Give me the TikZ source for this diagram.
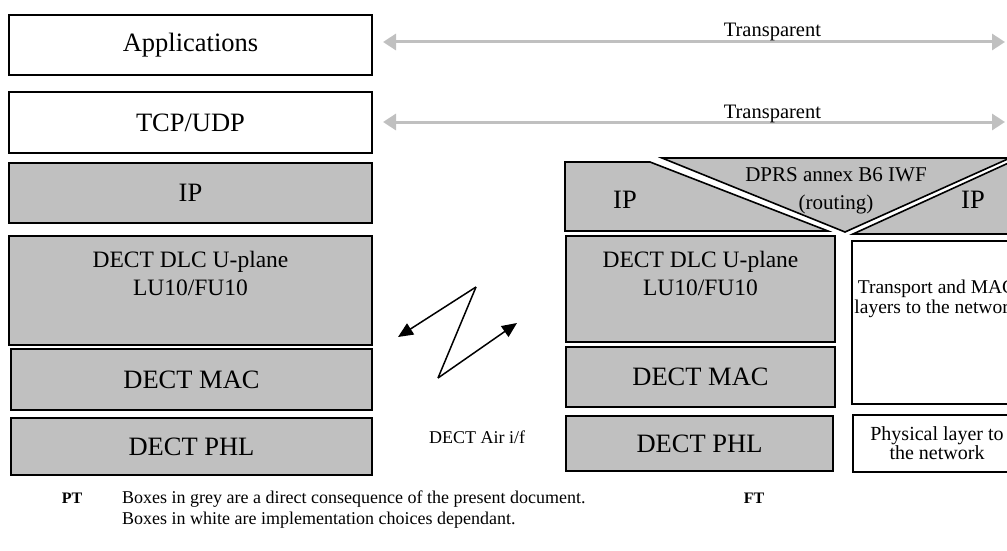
\documentclass[tikz,border=0pt]{standalone}
\usepackage{fontspec}
\setmainfont{Liberation Serif}
\usetikzlibrary{arrows.meta,positioning}
\definecolor{boxgrey}{HTML}{C0C0C0}
\begin{document}
\begin{tikzpicture}[x=1pt, y=-1pt,
    layer/.style={rectangle, draw, line width=1.6pt, fill=white, inner sep=0pt, align=center, font=\fontsize{26.5}{29}\selectfont},
    greylayer/.style={layer, fill=boxgrey},
    dlctext/.style={align=center, inner sep=0pt, font=\fontsize{23.5}{28}\selectfont},
    smalltext/.style={align=center, inner sep=0pt, font=\fontsize{19.5}{20}\selectfont},
    side/.style={anchor=base, font=\bfseries\fontsize{16}{18}\selectfont},
    wedge/.style={draw, line width=1.6pt, fill=boxgrey},
    transparent/.style={draw=boxgrey, line width=3pt, {Triangle[length=13pt,width=16pt]}-{Triangle[length=13pt,width=16pt]}},
    radio/.style={draw, line width=1.5pt, -{Triangle[length=15pt,width=13pt]}}
]
\useasboundingbox (0,0) rectangle (1007,551);
\clip (0,0) rectangle (1007,551);

\node[layer, minimum width=363pt, minimum height=60pt] (app) at (190.5,45) {Applications};
\node[layer, minimum width=363pt, minimum height=61pt] (tcp) at (190.5,122.5) {TCP/UDP};
\node[greylayer, minimum width=363pt, minimum height=60pt] (ipl) at (190.5,193) {IP};
\node[greylayer, minimum width=363pt, minimum height=109pt] (dlcl) at (190.5,290.5) {};
\node[dlctext] at ([yshift=-38pt]dlcl.north) {DECT DLC U-plane\\LU10/FU10};
\node[greylayer, minimum width=361pt, minimum height=61pt] (macl) at (191.5,379.5) {DECT MAC};
\node[greylayer, minimum width=361pt, minimum height=57pt] (phll) at (191.5,446.5) {DECT PHL};

\node[greylayer, minimum width=269pt, minimum height=106pt] (dlcr) at (700.5,289) {};
\node[dlctext] at ([yshift=-38pt]dlcr.north) {DECT DLC U-plane\\LU10/FU10};
\node[greylayer, minimum width=269pt, minimum height=60pt] (macr) at (700.5,377) {DECT MAC};
\node[greylayer, minimum width=267pt, minimum height=55pt] (phlr) at (699.5,443.5) {DECT PHL};
\node[layer, minimum width=169pt, minimum height=163pt] (netmac) at (936.5,322.5) {};
\node[smalltext] at ([yshift=-59pt]netmac.north) {Transport and MAC\\layers to the network};
\node[layer, font=\fontsize{20}{19}\selectfont, minimum width=168pt, minimum height=57pt] (netphy) at (937,443.5) {Physical layer to\\the network};

\draw[wedge] (565,162) -- (650,162) -- (828,231) -- (565,231) -- cycle;
\draw[wedge] (662,158) -- (1010,158) -- (845,232) -- cycle;
\draw[wedge] (853,234) -- (1015,160) -- (1100,160) -- (1100,234) -- cycle;
\node[font=\fontsize{26.5}{29}\selectfont] (ipr1) at (625,200) {IP};
\node[font=\fontsize{26.5}{29}\selectfont] (ipr2) at (973,200) {IP};
\node[smalltext, font=\fontsize{21}{28}\selectfont] (iwf) at (836,191) {DPRS annex B6 IWF\\(routing)};

\coordinate (appnear) at (383,42);
\coordinate (appfar) at (1005,42);
\coordinate (tcpnear) at (383,122);
\coordinate (tcpfar) at (1005,122);
\draw[transparent] (appnear) -- node[pos=.626, anchor=base, yshift=5pt, text=black, font=\fontsize{20.5}{20}\selectfont] {Transparent} (appfar);
\draw[transparent] (tcpnear) -- node[pos=.626, anchor=base, yshift=4pt, text=black, font=\fontsize{20.5}{20}\selectfont] {Transparent} (tcpfar);

\coordinate (zl) at (398,337);
\coordinate (zt) at (476,287);
\coordinate (zb) at (438,378);
\coordinate (zr) at (517,323);
\draw[radio] (zt) -- (zl);
\draw[line width=1.5pt] (zt) -- (zb);
\draw[radio] (zb) -- (zr);
\node[font=\fontsize{18}{20}\selectfont] (air) at (477,437) {DECT Air i/f};

\node[side] (pt) at (72,503) {PT};
\node[anchor=north west, align=left, inner sep=0pt, font=\fontsize{18}{21}\selectfont] (legend) at (122,491) {Boxes in grey are a direct consequence of the present document.\\Boxes in white are implementation choices dependant.};
\node[side] (ft) at (754,503) {FT};
\end{tikzpicture}
\end{document}
